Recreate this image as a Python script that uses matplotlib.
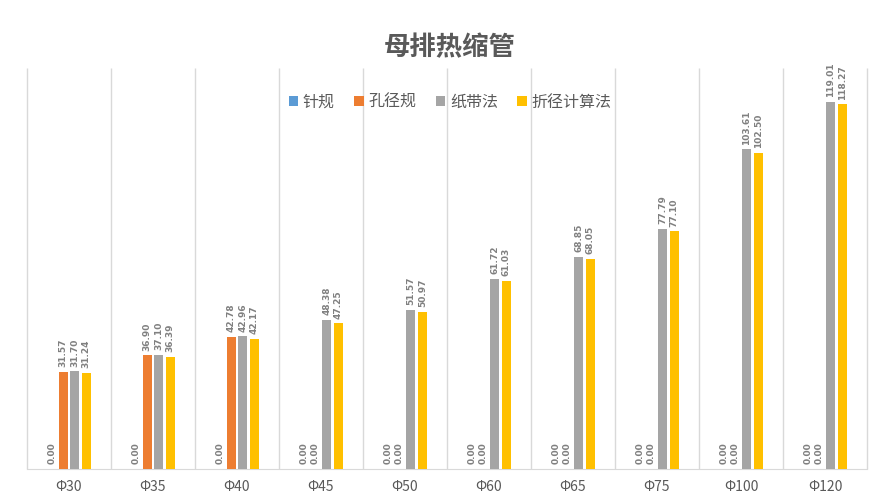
import matplotlib
matplotlib.use('Agg')
import matplotlib.pyplot as plt
import numpy as np

plt.rcParams['font.family'] = ['Noto Sans CJK SC', 'DejaVu Sans']

# Data
categories = ['Φ30', 'Φ35', 'Φ40', 'Φ45', 'Φ50', 'Φ60', 'Φ65', 'Φ75', 'Φ100', 'Φ120']
series_names = ['针规', '孔径规', '纸带法', '折径计算法']
zhengui = [0.00, 0.00, 0.00, 0.00, 0.00, 0.00, 0.00, 0.00, 0.00, 0.00]
kongjinggui = [31.57, 36.90, 42.78, 0.00, 0.00, 0.00, 0.00, 0.00, 0.00, 0.00]
zhidaifa = [31.70, 37.10, 42.96, 48.38, 51.57, 61.72, 68.85, 77.79, 103.61, 119.01]
zhejing = [31.24, 36.39, 42.17, 47.25, 50.97, 61.03, 68.05, 77.10, 102.50, 118.27]
colors = ['#5B9BD5', '#ED7D31', '#A5A5A5', '#FFC000']

fig = plt.figure(figsize=(8.84, 5), dpi=100)
ax = fig.add_axes([27 / 884, 31 / 500, 840 / 884, 401 / 500])

x = np.arange(len(categories))
step = 0.137
width = 0.107
all_series = [zhengui, kongjinggui, zhidaifa, zhejing]
for i, (vals, name, c) in enumerate(zip(all_series, series_names, colors)):
    pos = x + (i - 1.5) * step
    ax.bar(pos, vals, width=width, color=c, label=name, zorder=3)
    for p, v in zip(pos, vals):
        ax.text(p, v + 1.5, f'{v:.2f}', rotation=90, ha='center', va='bottom',
                fontsize=6.5, fontweight='bold', color='#808080',
                family=['DejaVu Sans'])

ax.set_xlim(-0.5, len(categories) - 0.5)
ax.set_ylim(0, 130)
ax.set_yticks([])
ax.set_xticks(x)
ax.set_xticklabels(categories, fontsize=10, color='#595959')
ax.tick_params(axis='x', length=0, pad=8)

# category separators
ax.vlines(np.arange(-0.5, len(categories)), 0, 130, colors='#d9d9d9',
          linewidth=1, zorder=0, clip_on=False)

for s in ['top', 'left', 'right']:
    ax.spines[s].set_visible(False)
ax.spines['bottom'].set_color('#d9d9d9')

fig.suptitle('母排热缩管', x=450 / 884, y=1 - 48 / 500, va='center',
             fontsize=19, fontweight='bold', color='#595959')

ax.legend(loc='center', bbox_to_anchor=((450 - 27) / 840, (469 - 102) / 401),
          ncol=4, frameon=False, fontsize=11.5, handlelength=0.6, handleheight=0.6,
          handletextpad=0.3, columnspacing=1.2, labelcolor='#595959')

fig.savefig('out.png', dpi=100)
